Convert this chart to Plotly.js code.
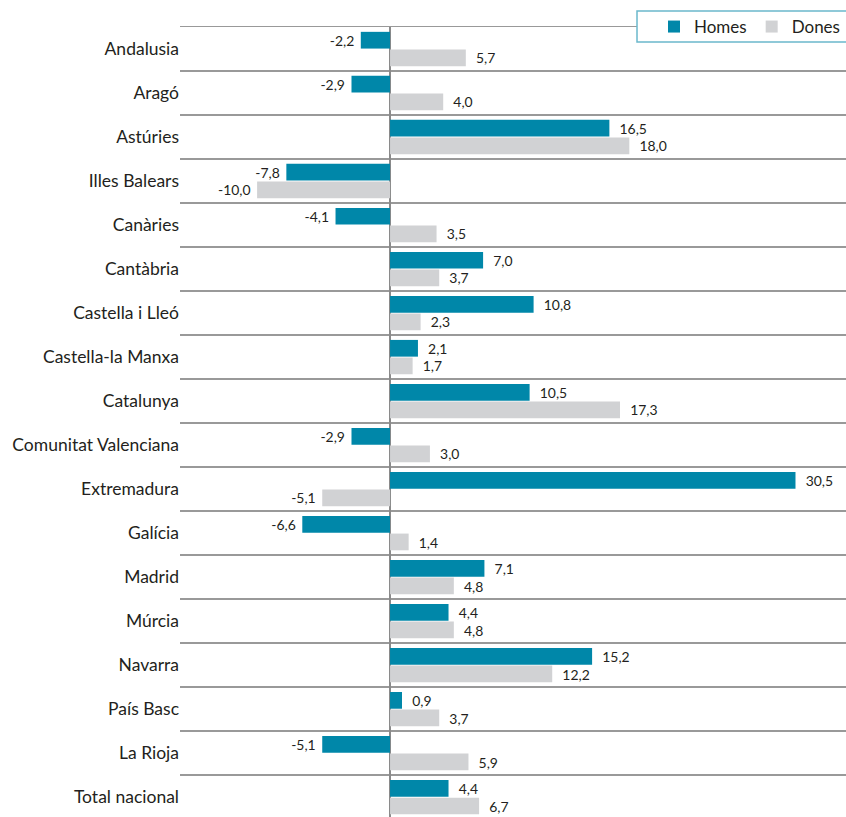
<!DOCTYPE html>
<html>
<head>
<meta charset="utf-8">
<script src="https://cdn.plot.ly/plotly-3.0.1.min.js"></script>
<style>html,body{margin:0;padding:0;background:#fff;}#chart{width:846px;height:817px;}</style>
</head>
<body>
<div id="chart"></div>
<script>
const categories = ["Andalusia","Aragó","Astúries","Illes Balears","Canàries","Cantàbria","Castella i Lleó","Castella-la Manxa","Catalunya","Comunitat Valenciana","Extremadura","Galícia","Madrid","Múrcia","Navarra","País Basc","La Rioja","Total nacional"];
const homes = [-2.2,-2.9,16.5,-7.8,-4.1,7.0,10.8,2.1,10.5,-2.9,30.5,-6.6,7.1,4.4,15.2,0.9,-5.1,4.4];
const dones = [5.7,4.0,18.0,-10.0,3.5,3.7,2.3,1.7,17.3,3.0,-5.1,1.4,4.8,4.8,12.2,3.7,5.9,6.7];
const seriesNames = ["Homes","Dones"];
const seriesColors = ["#0087A9","#D1D2D4"];

function fmt(v){
  const s = v.toFixed(1).replace('.', ',');
  return v < 0 ? s + '\u00a0' : '\u00a0\u00a0' + s;
}

const traces = [homes, dones].map((vals, i) => ({
  type: 'bar',
  orientation: 'h',
  name: seriesNames[i],
  x: vals,
  y: categories,
  text: vals.map(fmt),
  textposition: 'outside',
  cliponaxis: false,
  textfont: {family: 'Lato, sans-serif', size: 15, color: '#231F20'},
  marker: {color: seriesColors[i], line: {width: 0}},
  hoverinfo: 'skip'
}));

const layout = {
  width: 846, height: 817,
  margin: {l: 180, r: 0, t: 27, b: 0, autoexpand: false},
  paper_bgcolor: '#fff', plot_bgcolor: '#fff',
  barmode: 'group', bargap: 0.2, bargroupgap: 0.05,
  font: {family: 'Lato, sans-serif', color: '#231F20'},
  showlegend: true,
  legend: {
    orientation: 'h', x: 0.7117, xanchor: 'left', y: 1.0, yanchor: 'middle',
    bgcolor: 'rgba(0,0,0,0)', borderwidth: 0,
    font: {family: 'Lato, sans-serif', size: 17, color: '#231F20'},
    traceorder: 'normal'
  },
  shapes: [{
    type: 'rect', xref: 'paper', yref: 'paper', layer: 'above',
    x0: 0.6862, x1: 1.05, y0: 0.981, y1: 1.0203,
    line: {color: '#6BB8CC', width: 1.5}, fillcolor: '#fff'
  }],
  xaxis: {
    range: [-15.8, 34.3], side: 'top', showline: true, linecolor: '#999', linewidth: 1.5,
    showgrid: false, showticklabels: false, ticks: '',
    zeroline: true, zerolinecolor: '#8a8a8a', zerolinewidth: 1.5, fixedrange: true
  },
  yaxis: {
    type: 'category', range: [17.45, -0.5], tickson: 'boundaries',
    showgrid: true, gridcolor: '#999', gridwidth: 1.5, ticks: '',
    showline: false, zeroline: false,
    tickfont: {family: 'Lato, sans-serif', size: 17.5, color: '#231F20'},
    fixedrange: true
  }
};

Plotly.newPlot('chart', traces, layout, {staticPlot: true, displayModeBar: false});
</script>
</body>
</html>
